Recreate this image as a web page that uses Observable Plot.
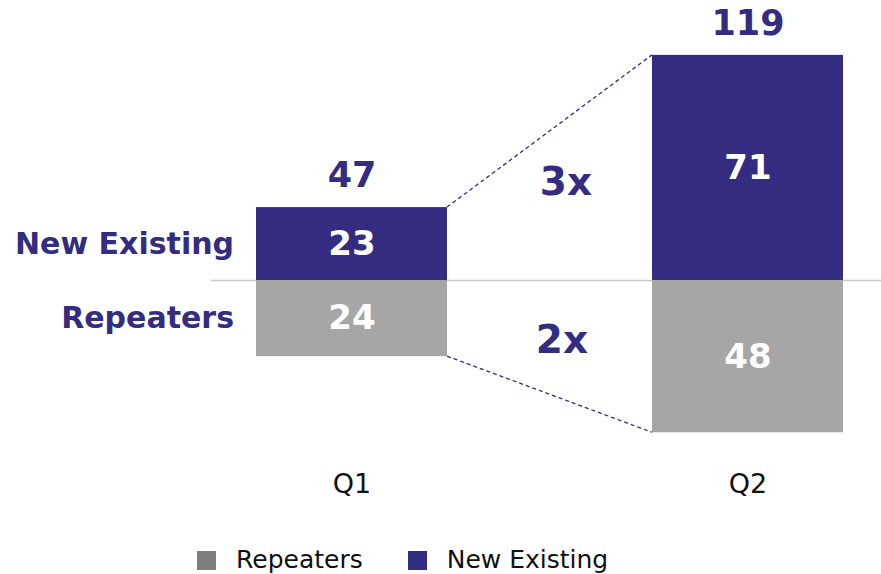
<!DOCTYPE html>
<html>
<head>
<meta charset="utf-8">
<script src="https://cdn.jsdelivr.net/npm/d3@7"></script>
<script src="https://cdn.jsdelivr.net/npm/@observablehq/plot@0.6"></script>
<style>
  html, body { margin: 0; padding: 0; background: #fff; overflow: hidden; }
  #chart { width: 881px; }
  .legend { display: flex; align-items: center; box-sizing: border-box; height: 44px; padding-top: 16px; padding-left: 197px;
            font-family: "DejaVu Sans", Verdana, sans-serif; font-size: 25px; line-height: 28px; color: #111; }
  .legend .item { display: flex; align-items: center; }
  .legend .sw { width: 19px; height: 19px; margin-right: 20px; }
</style>
</head>
<body>
<div id="chart"></div>
<script>
const quarters = ["Q1", "Q2"];
const newExisting = [23, 71];
const repeaters = [24, 48];
const totals = [47, 119];
const seriesNames = ["Repeaters", "New Existing"];
const seriesColors = ["#A6A6A6", "#332C81"];
const legendColors = ["#7F7F7F", "#332C81"];
const ratioLabels = ["3x", "2x"];

const navy = "#332C81";
const font = "DejaVu Sans, Verdana, sans-serif";

const rows = quarters.flatMap((q, i) => [
  {quarter: q, series: "New Existing", value: newExisting[i], label: newExisting[i]},
  {quarter: q, series: "Repeaters", value: -repeaters[i], label: repeaters[i]}
]);
const totalRows = quarters.map((q, i) => ({quarter: q, top: newExisting[i], total: totals[i]}));
const q1Rows = rows.filter(d => d.quarter === quarters[0]);

const plot = Plot.plot({
  width: 881,
  height: 530,
  marginTop: 0,
  marginBottom: 60,
  marginLeft: 0,
  marginRight: 0,
  style: {fontFamily: font, fontSize: "27px", color: "#111", background: "white", overflow: "visible"},
  x: {type: "band", domain: quarters, range: [256, 843], paddingInner: 0.518, paddingOuter: 0,
      label: null, tickSize: 0, tickPadding: 3},
  y: {domain: [-59.9, 88.3], axis: null},
  color: {domain: seriesNames, range: seriesColors},
  marks: [
    Plot.ruleY([0], {stroke: "#C8C8C8", strokeWidth: 1.5, insetLeft: 211}),
    Plot.barY(rows, {x: "quarter", y: "value", fill: "series"}),
    Plot.text(rows, Plot.stackY({x: "quarter", y: "value", text: "label",
      fill: "white", fontSize: 34, fontWeight: "bold"})),
    Plot.text(totalRows, {x: "quarter", y: "top", text: "total", dy: -32,
      fill: navy, fontSize: 35, fontWeight: "bold"}),
    Plot.text(q1Rows, Plot.stackY({x: "quarter", y: "value", text: "series",
      textAnchor: "end", dx: -118, fill: navy, fontSize: 30, fontWeight: "bold"})),
    Plot.text([ratioLabels[0]], {x: () => quarters[0], y: () => 31, text: d => d, dx: 214,
      fill: navy, fontSize: 39, fontWeight: "bold"}),
    Plot.text([ratioLabels[1]], {x: () => quarters[0], y: () => -19, text: d => d, dx: 210,
      fill: navy, fontSize: 39, fontWeight: "bold"})
  ]
});

// dashed connector lines between bar edges, positioned through the plot's scales
const sx = plot.scale("x"), sy = plot.scale("y");
const bw = sx.bandwidth;
const links = [
  {x1: sx.apply(quarters[0]) + bw, y1: sy.apply(newExisting[0]), x2: sx.apply(quarters[1]), y2: sy.apply(newExisting[1])},
  {x1: sx.apply(quarters[0]) + bw, y1: sy.apply(-repeaters[0]), x2: sx.apply(quarters[1]), y2: sy.apply(-repeaters[1])}
];
d3.select(plot).append("g")
  .selectAll("line").data(links).join("line")
  .attr("x1", d => d.x1).attr("y1", d => d.y1)
  .attr("x2", d => d.x2).attr("y2", d => d.y2)
  .attr("stroke", navy).attr("stroke-width", 1.3).attr("stroke-dasharray", "4,3");

const chart = document.getElementById("chart");
chart.appendChild(plot);

const legend = document.createElement("div");
legend.className = "legend";
seriesNames.forEach((name, i) => {
  const item = document.createElement("div");
  item.className = "item";
  item.style.marginRight = i === 0 ? "45px" : "0";
  const sw = document.createElement("div");
  sw.className = "sw";
  sw.style.background = legendColors[i];
  const t = document.createElement("span");
  t.textContent = name;
  item.appendChild(sw);
  item.appendChild(t);
  legend.appendChild(item);
});
chart.appendChild(legend);
</script>
</body>
</html>
